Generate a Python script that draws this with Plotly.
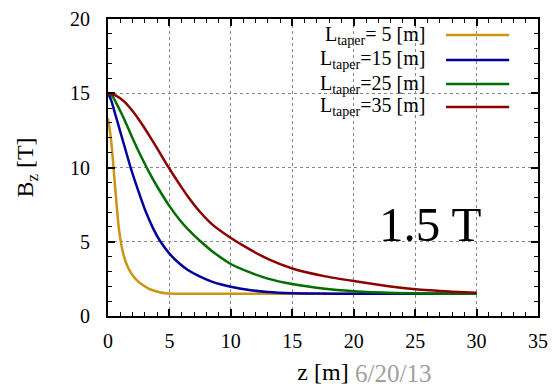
import plotly.graph_objects as go

# ---- data ----
z_L5 = [0, 0.2, 0.35, 0.5, 0.7, 0.9, 1.17, 1.4, 1.7, 2.0, 2.38, 2.8, 3.3, 3.7, 4.2, 4.7, 5.5, 10, 20, 30]
B_L5 = [13.3, 12.2, 11.0, 9.5, 7.5, 5.8, 4.45, 3.75, 3.15, 2.75, 2.38, 2.1, 1.85, 1.72, 1.6, 1.53, 1.5, 1.5, 1.5, 1.5]

z_L15 = [0, 0.25, 0.5, 0.9, 1.3, 1.84, 2.25, 2.75, 3.06, 3.7, 4.2, 5, 5.86, 6.5, 7.5, 8.5, 10, 11.5, 13, 15, 17, 20, 25, 30]
B_L15 = [15, 14.55, 13.85, 12.7, 11.55, 10.0, 8.95, 7.75, 7.05, 5.85, 5.1, 4.2, 3.5, 3.1, 2.65, 2.3, 1.97, 1.75, 1.62, 1.54, 1.51, 1.5, 1.5, 1.5]

z_L25 = [0, 0.4, 0.76, 1.03, 1.4, 1.9, 2.4, 2.9, 3.3, 3.7, 4.0, 5, 5.86, 6.5, 7.5, 8.5, 10, 11.5, 13, 15, 17.5, 20, 23.3, 26, 30]
B_L25 = [15, 14.75, 14.2, 13.75, 13.1, 12.15, 11.25, 10.4, 9.75, 9.15, 8.72, 7.4, 6.45, 5.85, 5.05, 4.35, 3.5, 2.95, 2.52, 2.15, 1.85, 1.67, 1.55, 1.51, 1.5]

z_L35 = [0, 0.6, 1.3, 2.0, 2.7, 3.4, 4.1, 4.9, 5.8, 6.5, 7.5, 8.5, 10, 11.5, 13, 15, 17.5, 20, 23, 25, 28, 30]
B_L35 = [15, 14.85, 14.45, 13.8, 13.0, 12.1, 11.15, 10.05, 8.9, 8.05, 7.0, 6.15, 5.25, 4.5, 3.85, 3.2, 2.7, 2.35, 1.98, 1.8, 1.64, 1.56]

series_names = ["L<sub>taper</sub>= 5 [m]", "L<sub>taper</sub>=15 [m]",
                "L<sub>taper</sub>=25 [m]", "L<sub>taper</sub>=35 [m]"]
colors = ["#CC9314", "#00009A", "#006E00", "#8C0000"]

x_ticks = [0, 5, 10, 15, 20, 25, 30, 35]
y_ticks = [0, 5, 10, 15, 20]

FONT = "Liberation Serif, Times New Roman, serif"

fig = go.Figure()
for zz, bb, nm, c in zip([z_L5, z_L15, z_L25, z_L35], [B_L5, B_L15, B_L25, B_L35], series_names, colors):
    fig.add_trace(go.Scatter(x=zz, y=bb, mode="lines", name=nm,
                             line=dict(color=c, width=2.5, shape="spline", smoothing=0.6),
                             showlegend=False))

axis_common = dict(
    showline=True, linecolor="black", linewidth=2, mirror="ticks",
    ticks="inside", ticklen=7, tickwidth=1.5, tickcolor="black",
    showgrid=True, gridcolor="#888888", griddash="dot", gridwidth=1,
    zeroline=False, automargin=False,
    tickfont=dict(family=FONT, size=20, color="black"),
    minor=dict(dtick=1, ticks="inside", ticklen=4, tickwidth=1, tickcolor="black", showgrid=False),
)

fig.update_xaxes(range=[0, 35], tickvals=x_ticks, ticklabelstandoff=6,
                 title=dict(text="z [m]", font=dict(family=FONT, size=24, color="black"), standoff=12),
                 **axis_common)
fig.update_yaxes(range=[0, 20], tickvals=y_ticks, ticklabelstandoff=12,
                 title=dict(text="B<sub>z</sub> [T]", font=dict(family=FONT, size=24, color="black"), standoff=30),
                 **axis_common)

# white box behind custom legend (hides grid)
fig.add_shape(type="rect", xref="paper", yref="paper", x0=0.347, x1=0.958, y0=0.67, y1=0.995,
              fillcolor="white", line=dict(width=0), layer="between")

rows_y = [0.946, 0.862, 0.781, 0.704]
for nm, c, yy in zip(series_names, colors, rows_y):
    fig.add_annotation(xref="paper", yref="paper", x=0.742, y=yy, text=nm, showarrow=False,
                       xanchor="right", yanchor="middle",
                       font=dict(family=FONT, size=20, color="black"))
    fig.add_shape(type="line", xref="paper", yref="paper", x0=0.786, x1=0.933, y0=yy, y1=yy,
                  line=dict(color=c, width=2.5))

fig.add_annotation(xref="paper", yref="paper", x=0.749, y=0.307, text="1.5 T", showarrow=False,
                   xanchor="center", yanchor="middle",
                   font=dict(family=FONT, size=49, color="black"))

fig.add_annotation(xref="paper", yref="paper", x=0.570, y=-0.195, text="6/20/13", showarrow=False,
                   xanchor="left", yanchor="middle",
                   font=dict(family=FONT, size=25, color="#A0A0A0"))

fig.update_layout(width=553, height=387, margin=dict(l=108, r=15, t=19, b=71),
                  plot_bgcolor="white", paper_bgcolor="white", showlegend=False)

fig.write_html("out.html")
